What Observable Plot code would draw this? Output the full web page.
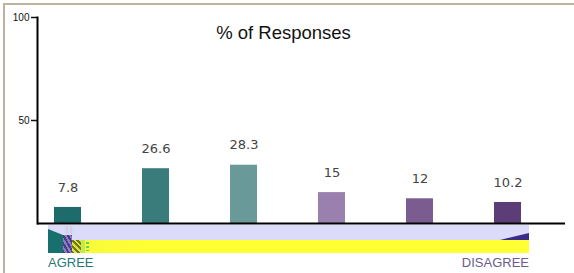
<!DOCTYPE html>
<html>
<head>
<meta charset="utf-8">
<script src="https://cdn.jsdelivr.net/npm/d3@7"></script>
<script src="https://cdn.jsdelivr.net/npm/@observablehq/plot@0.6"></script>
<style>
  html, body { margin: 0; padding: 0; background: #fff; }
  #wrap { position: relative; width: 574px; height: 273px; overflow: hidden; font-family: "Liberation Sans", Arial, sans-serif; }
  #border { position: absolute; left: 3px; top: 3px; right: 0; bottom: 0; border-top: 2px solid #bdb39e; border-left: 2px solid #bdb39e; }
  #chart { position: absolute; left: 0; top: 0; }
  .band { position: absolute; }
  .lbl { position: absolute; font-size: 13px; line-height: 13px; }
</style>
</head>
<body>
<div id="wrap">
  <div id="border"></div>
  <div class="band" style="left:48px;top:225px;width:481px;height:15px;background:#dcdcfa"></div>
  <div class="band" style="left:48px;top:240px;width:481px;height:13px;background:linear-gradient(to right,#f4f840,#ffff33 20%,#ffff33)"></div>
  <div class="band" style="left:48px;top:229px;width:15px;height:24px;background:#17706e;clip-path:polygon(0 0,100% 25%,100% 100%,0 100%)"></div>
  <div class="band" style="left:63px;top:235px;width:9px;height:18px;background:repeating-linear-gradient(60deg,#4a3f86 0 2px,#8c7cc0 2px 4px)"></div>
  <div class="band" style="left:64px;top:226px;width:10px;height:8px;background:repeating-linear-gradient(90deg,#b8e8e8 0 2px,#f0b8e8 2px 4px);opacity:.7"></div>
  <div class="band" style="left:72px;top:240px;width:9px;height:13px;background:repeating-linear-gradient(45deg,#6f7a10 0 2px,#e0e040 2px 4px)"></div>
  <div class="band" style="left:81px;top:240px;width:4px;height:13px;background:#c0ec50"></div>
  <div class="band" style="left:86px;top:242px;width:3px;height:9px;background:repeating-linear-gradient(180deg,#60d060 0 2px,#ffff33 2px 4px)"></div>
  <div class="band" style="left:500px;top:233px;width:29px;height:7px;background:#3b2a8a;clip-path:polygon(0 100%,100% 0,100% 100%)"></div>
  <div class="lbl" style="left:48px;top:256px;color:#287878">AGREE</div>
  <div class="lbl" style="left:400px;width:129px;text-align:right;top:256px;color:#6e5a8c">DISAGREE</div>
  <div id="chart"></div>
</div>
<script>
const categories = ["1", "2", "3", "4", "5", "6"];
const values = [7.8, 26.6, 28.3, 15, 12, 10.2];
const barColors = ["#1d6b6b", "#3a7c7c", "#6a9999", "#9a80ae", "#7a5c90", "#5c3d78"];
const yTicks = [50, 100];
const title = "% of Responses";

const data = categories.map((c, i) => ({category: c, value: values[i]}));

const chart = Plot.plot({
  width: 574,
  height: 273,
  marginTop: 17,
  marginBottom: 50,
  marginLeft: 37,
  marginRight: 9,
  style: {background: "transparent", fontFamily: "Liberation Sans, Arial, sans-serif"},
  x: {domain: categories, range: [22.4, 551.6], paddingInner: 0.694, paddingOuter: 0.347, axis: null},
  y: {domain: [0, 100]},
  color: {domain: categories, range: barColors},
  marks: [
    Plot.barY(data, {x: "category", y: "value", fill: "category"}),
    Plot.text(data, {
      x: "category", y: "value", text: d => String(d.value),
      dy: -20, lineAnchor: "middle", fill: "#444",
      fontFamily: "DejaVu Sans", fontSize: 13, style: "letter-spacing:0.6px"
    }),
    Plot.axisY({ticks: yTicks, tickSize: 6, tickPadding: 2, label: null, fontSize: 10, strokeWidth: 1.5, color: "#111"}),
    Plot.frame({anchor: "left", stroke: "#000", strokeWidth: 2}),
    Plot.ruleY([0], {stroke: "#000", strokeWidth: 2}),
    Plot.text([title], {frameAnchor: "top", dx: -18, dy: 16, lineAnchor: "middle", fontSize: 18.5, fill: "#111"})
  ]
});
document.getElementById("chart").appendChild(chart);
</script>
</body>
</html>
